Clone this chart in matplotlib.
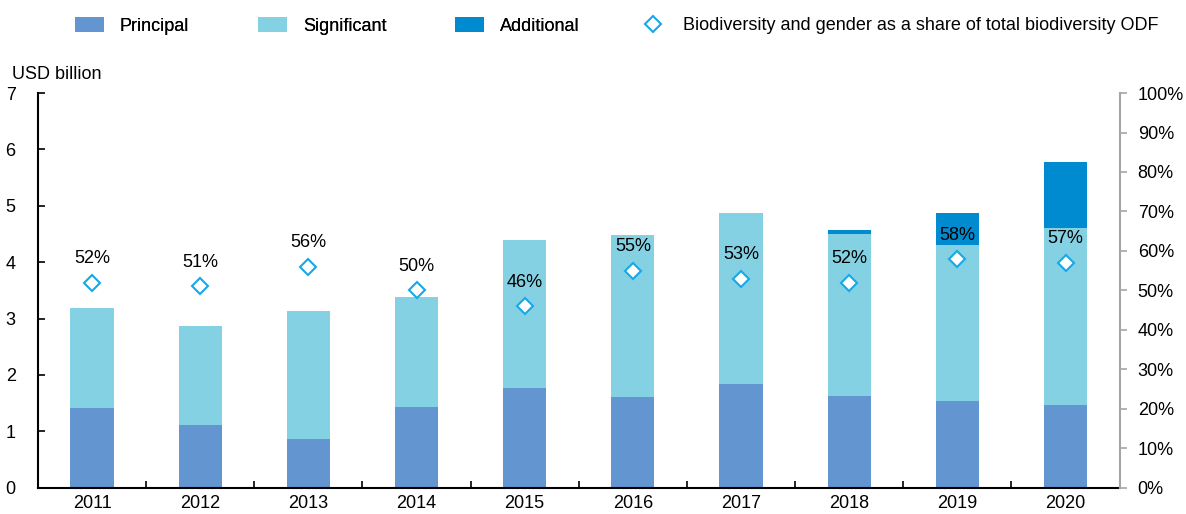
import matplotlib.pyplot as plt
import numpy as np

plt.rcParams['font.family'] = ['Liberation Sans', 'DejaVu Sans']
plt.rcParams['font.size'] = 13

years = ['2011', '2012', '2013', '2014', '2015', '2016', '2017', '2018', '2019', '2020']
principal = [1.42, 1.12, 0.87, 1.44, 1.77, 1.61, 1.84, 1.63, 1.54, 1.47]
significant = [1.77, 1.75, 2.27, 1.95, 2.63, 2.88, 3.04, 2.87, 2.77, 3.14]
additional = [0.0, 0.0, 0.0, 0.0, 0.0, 0.0, 0.0, 0.08, 0.56, 1.16]
share = [52, 51, 56, 50, 46, 55, 53, 52, 58, 57]

c_prin = '#6395d0'
c_sig = '#84d1e4'
c_add = '#008bd0'
c_dia = '#16a9e9'

fig = plt.figure(figsize=(11.86, 5.14), dpi=100)
ax = fig.add_axes([0.032, 0.051, 0.912, 0.768])
ax2 = ax.twinx()

x = np.arange(len(years))
w = 0.4
b1 = np.array(principal)
b2 = b1 + np.array(significant)
ax.bar(x, principal, w, color=c_prin, label='Principal', zorder=2)
ax.bar(x, significant, w, bottom=b1, color=c_sig, label='Significant', zorder=2)
ax.bar(x, additional, w, bottom=b2, color=c_add, label='Additional', zorder=2)

ax.set_xlim(-0.5, 9.5)
ax.set_ylim(0, 7)
ax.set_xticks(x)
ax.set_xticklabels(years)
ax.set_xticks(np.arange(-0.5, 10, 1), minor=True)
ax.tick_params(axis='x', which='major', length=0, pad=5)
ax.tick_params(axis='x', which='minor', direction='in', length=5, width=1.2)
ax.tick_params(axis='y', direction='in', length=5, width=1.2, pad=16)
ax.set_yticks(range(8))
for s in ['top', 'right']:
    ax.spines[s].set_visible(False)
ax.spines['left'].set_linewidth(1.5)
ax.spines['bottom'].set_linewidth(1.5)
ax.text(-0.024, 1.025, 'USD billion', transform=ax.transAxes, ha='left', va='bottom')

ax2.set_ylim(0, 100)
ax2.set_yticks(range(0, 101, 10))
ax2.set_yticklabels([f'{v}%' for v in range(0, 101, 10)])
for s in ['top', 'left', 'bottom']:
    ax2.spines[s].set_visible(False)
ax2.spines['right'].set_color('#a6a6a6')
ax2.spines['right'].set_linewidth(1.5)
ax2.tick_params(axis='y', direction='out', length=5, width=1.2, color='#a6a6a6', pad=8)
ax2.plot(x, share, linestyle='none', marker='D', markersize=8, markerfacecolor='white',
         markeredgecolor=c_dia, markeredgewidth=1.5, zorder=3,
         label='Biodiversity and gender as a share of total biodiversity ODF')
for xi, v in zip(x, share):
    ax2.annotate(f'{v}%', (xi, v), xytext=(0, 11), textcoords='offset points',
                 ha='center', va='bottom')

h1, l1 = ax.get_legend_handles_labels()
h2, l2 = ax2.get_legend_handles_labels()
leg1 = fig.legend(h1, l1, ncol=3, loc='upper left', bbox_to_anchor=(0.063, 0.967),
                  frameon=False, handlelength=1.6, handleheight=0.9, columnspacing=3.8,
                  handletextpad=0.9, borderaxespad=0, borderpad=0)
fig.legend(h2, l2, loc='upper left', bbox_to_anchor=(0.538, 0.967),
           frameon=False, handlelength=1.6, handletextpad=0.9, borderaxespad=0, borderpad=0)
fig.add_artist(leg1)

fig.savefig('out.png', dpi=100)
